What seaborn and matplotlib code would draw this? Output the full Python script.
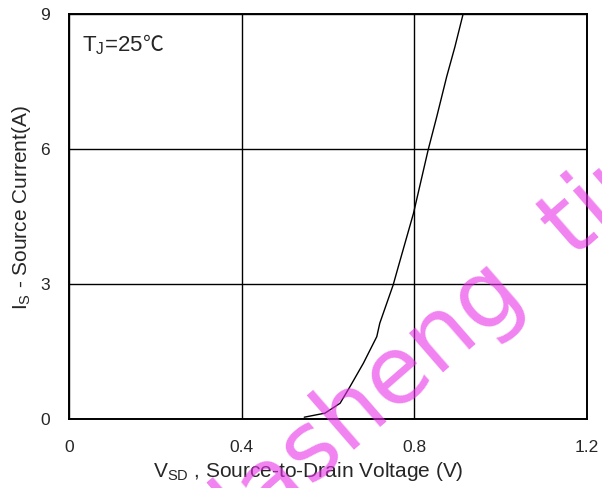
import matplotlib
matplotlib.use("Agg")
import matplotlib.pyplot as plt
import seaborn as sns
import pandas as pd

# Data
vsd = [0.545, 0.593, 0.628, 0.651, 0.682, 0.713, 0.720, 0.751, 0.763, 0.798, 0.832, 0.852, 0.875, 0.894, 0.913]
i_s = [0.04, 0.13, 0.35, 0.72, 1.24, 1.83, 2.13, 2.98, 3.39, 4.57, 5.98, 6.72, 7.61, 8.27, 9.0]
x_ticks = [0, 0.4, 0.8, 1.2]
x_tick_labels = ["0", "0.4", "0.8", "1.2"]
y_ticks = [0, 3, 6, 9]
y_tick_labels = ["0", "3", "6", "9"]

sns.set_style("white")
plt.rcParams["font.family"] = ["Liberation Sans", "Noto Sans CJK SC", "DejaVu Sans"]
plt.rcParams["mathtext.fontset"] = "custom"
plt.rcParams["mathtext.rm"] = "Liberation Sans"
plt.rcParams["mathtext.it"] = "Liberation Sans"

df = pd.DataFrame({"vsd": vsd, "is": i_s})

fig = plt.figure(figsize=(6.02, 4.88), dpi=100)
ax = fig.add_axes([69 / 602, 1 - 419 / 488, (587 - 69) / 602, (419 - 14) / 488])

sns.lineplot(data=df, x="vsd", y="is", ax=ax, color="black", linewidth=1.0, sort=False)

ax.set_xlim(0, 1.2)
ax.set_ylim(0, 9)
ax.set_xticks(x_ticks)
ax.set_xticklabels(x_tick_labels, fontsize=12.5)
ax.set_yticks(y_ticks)
ax.set_yticklabels(y_tick_labels, fontsize=12.5)
ax.tick_params(axis="x", length=0, pad=15)
ax.tick_params(axis="y", length=0, pad=14)
ax.grid(True, color="black", linewidth=1.0)
for s in ax.spines.values():
    s.set_color("black")
    s.set_linewidth(1.4)

ax.set_xlabel(r"V$_{\mathrm{SD}}$ , Source-to-Drain Voltage (V)", fontsize=15)
ax.set_ylabel(r"I$_{\mathrm{S}}$ - Source Current(A)", fontsize=15)
ax.xaxis.set_label_coords((308 - 69) / 518, -0.102)
ax.yaxis.set_label_coords(-0.070, (419 - 208) / 405)

ax.text(0.03, 8.3, r"T$_{\mathrm{J}}$=25", fontsize=16, va="center", ha="left")
ax.text(0.172, 8.3, "℃", fontsize=15, va="center", ha="left",
        family=["Noto Sans CJK SC", "DejaVu Sans"], fontweight="light")

# watermark
fig.text(222 / 602, 1 - 565 / 488, "dasheng  tim", fontsize=68, rotation=41,
         rotation_mode="anchor", ha="left", va="baseline",
         color="#e830e8", alpha=0.6, family="DejaVu Sans")

fig.savefig("out.png", dpi=100)
